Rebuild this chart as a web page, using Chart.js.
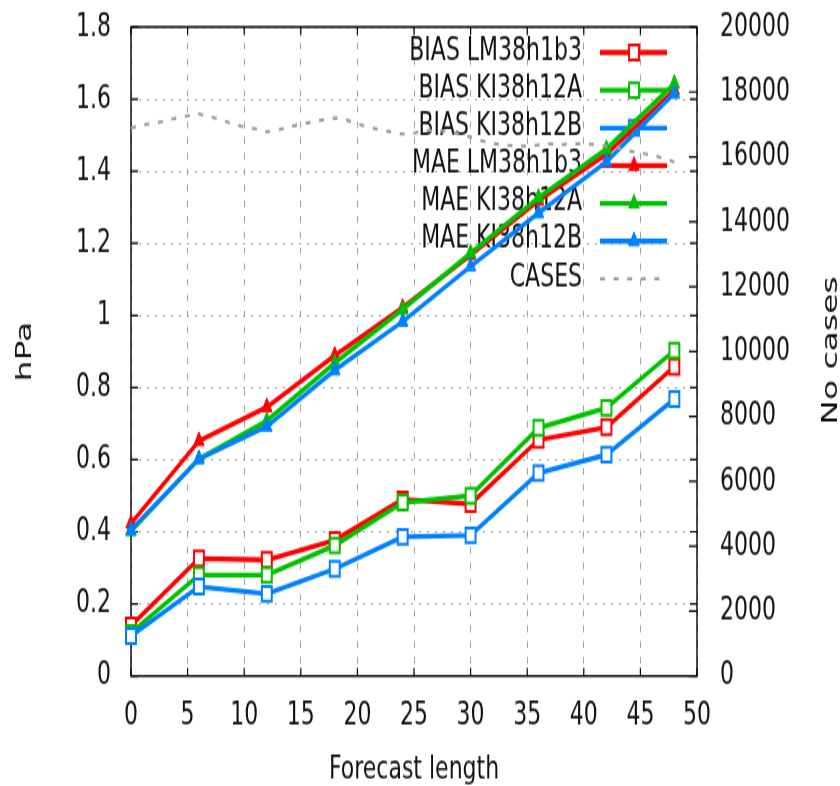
<!DOCTYPE html>
<html>
<head>
<meta charset="utf-8">
<title>BIAS / MAE - Forecast length</title>
<script src="https://cdn.jsdelivr.net/npm/chart.js@4.4.1/dist/chart.umd.min.js"></script>
<style>
  body { margin: 0; background: #fff; }
  #grafico { display: block; }
</style>
</head>
<body>
<!-- o desenho e feito em 840x524 e esticado na vertical pelo CSS -->
<canvas id="grafico" width="840" height="524" style="width:840px;height:786px"></canvas>
<script>
// Horas de previsao
const horas = [0, 6, 12, 18, 24, 30, 36, 42, 48];

// BIAS (hPa)
const biasLM = [0.14, 0.326, 0.322, 0.377, 0.49, 0.477, 0.655, 0.69, 0.858];
const biasKIA = [0.12, 0.28, 0.28, 0.362, 0.481, 0.5, 0.688, 0.744, 0.903];
const biasKIB = [0.111, 0.248, 0.228, 0.297, 0.386, 0.39, 0.563, 0.614, 0.768];

// MAE (hPa)
const maeLM = [0.423, 0.652, 0.746, 0.889, 1.022, 1.168, 1.318, 1.447, 1.625];
const maeKIA = [0.402, 0.602, 0.708, 0.868, 1.017, 1.173, 1.327, 1.462, 1.643];
const maeKIB = [0.405, 0.602, 0.692, 0.848, 0.983, 1.136, 1.284, 1.426, 1.616];

// Numero de casos, hora a hora
const horasCasos = [0, 1, 2, 3, 4, 5, 6, 7, 8, 9, 10, 11, 12, 13, 14, 15, 16, 17, 18, 19, 20,
    21, 22, 23, 24, 25, 26, 27, 28, 29, 30, 31, 32, 33, 34, 35, 36, 37, 38, 39, 40, 41, 42,
    43, 44, 45, 46, 47, 48];
const casos = [16890, 16980, 17040, 17100, 17200, 17260, 17320, 17230, 17140, 17010, 16920,
    16860, 16770, 16830, 16920, 17010, 17070, 17140, 17200, 17140, 17010, 16920, 16830, 16770,
    16700, 16730, 16800, 16830, 16770, 16700, 16610, 16490, 16400, 16370, 16330, 16330, 16370,
    16400, 16370, 16400, 16400, 16370, 16330, 16270, 16180, 16120, 16060, 15960, 15840];

// Marcas dos eixos
const ticksX = [0, 5, 10, 15, 20, 25, 30, 35, 40, 45, 50];
const ticksY = [0, 0.2, 0.4, 0.6, 0.8, 1, 1.2, 1.4, 1.6, 1.8];
const ticksY2 = [0, 2000, 4000, 6000, 8000, 10000, 12000, 14000, 16000, 18000, 20000];

const VERMELHO = '#ff0000';
const VERDE = '#00c000';
const AZUL = '#0080ff';
const CINZA = '#a0a0a0';
const FONTE = '"DejaVu Sans", sans-serif';
const TAMANHO = 22;

function pontos(xs, ys) {
    let lista = [];
    for (var i = 0; i < xs.length; i++) {
        lista.push({ x: xs[i], y: ys[i] });
    }
    return lista;
}

function serie(nome, xs, ys, cor, estilo, ordem) {
    let quadrado = estilo === 'rect';
    return {
        label: nome,
        data: pontos(xs, ys),
        yAxisID: 'y',
        borderColor: cor,
        borderWidth: 3.3,
        pointStyle: estilo,
        pointRadius: quadrado ? 7 : 6,
        pointBorderWidth: quadrado ? 2 : 1,
        pointBorderColor: cor,
        pointBackgroundColor: quadrado ? '#ffffff' : cor,
        tension: 0,
        clip: false,
        order: ordem
    };
}

// Desenha o marcador da legenda
function marcador(ctx, estilo, x, y, cor) {
    ctx.save();
    ctx.strokeStyle = cor;
    ctx.beginPath();
    if (estilo === 'rect') {
        let s = 7 * Math.SQRT1_2;
        ctx.fillStyle = '#ffffff';
        ctx.lineWidth = 2;
        ctx.rect(x - s, y - s, 2 * s, 2 * s);
    } else {
        let r = 6;
        ctx.fillStyle = cor;
        ctx.lineWidth = 1;
        ctx.moveTo(x, y - r);
        ctx.lineTo(x + r * Math.sin(Math.PI / 3), y + r / 2);
        ctx.lineTo(x - r * Math.sin(Math.PI / 3), y + r / 2);
        ctx.closePath();
    }
    ctx.fill();
    ctx.stroke();
    ctx.restore();
}

// tira o espaco extra que o Chart.js reserva para os rotulos das pontas
function semFolga(s) {
    s.paddingTop = 0;
    s.paddingBottom = 0;
    s.paddingLeft = 0;
    s.paddingRight = 0;
}

// Moldura, tracinhos dos eixos e legenda (por baixo das curvas)
const moldura = {
    id: 'moldura',
    beforeDatasetsDraw(chart) {
        const ctx = chart.ctx;
        const a = chart.chartArea;
        const sx = chart.scales.x, sy = chart.scales.y, sy2 = chart.scales.y2;

        ctx.save();
        ctx.strokeStyle = '#000';
        ctx.lineWidth = 1.2;
        ctx.beginPath();
        sx.ticks.forEach(t => {
            let px = sx.getPixelForValue(t.value);
            ctx.moveTo(px, a.bottom); ctx.lineTo(px, a.bottom - 5.5);
            ctx.moveTo(px, a.top); ctx.lineTo(px, a.top + 5.5);
        });
        sy.ticks.forEach(t => {
            let py = sy.getPixelForValue(t.value);
            ctx.moveTo(a.left, py); ctx.lineTo(a.left + 7, py);
            ctx.moveTo(a.right, py); ctx.lineTo(a.right - 7, py);
        });
        sy2.ticks.forEach(t => {
            let py = sy2.getPixelForValue(t.value);
            ctx.moveTo(a.right, py); ctx.lineTo(a.right - 8, py);
        });
        ctx.stroke();

        ctx.lineWidth = 1.4;
        ctx.strokeRect(a.left, a.top, a.right - a.left, a.bottom - a.top);

        // legenda
        ctx.font = TAMANHO + 'px ' + FONTE;
        ctx.textAlign = 'right';
        ctx.textBaseline = 'middle';
        chart.data.datasets.forEach((d, i) => {
            let y = 35 + i * 25.15;
            ctx.fillStyle = '#111';
            ctx.fillText(d.label, 582, y - 1);
            ctx.save();
            ctx.strokeStyle = d.borderColor;
            ctx.lineWidth = d.borderWidth;
            ctx.setLineDash(d.borderDash || []);
            ctx.beginPath();
            ctx.moveTo(600, y);
            ctx.lineTo(667, y);
            ctx.stroke();
            ctx.restore();
            if (d.pointStyle && d.pointRadius > 0) {
                marcador(ctx, d.pointStyle, 634, y, d.borderColor);
            }
        });
        ctx.restore();
    },
    afterDraw(chart) {
        // titulo do eixo da direita, lido de baixo para cima
        const ctx = chart.ctx;
        ctx.save();
        ctx.translate(837, 233.7);
        ctx.rotate(-Math.PI / 2);
        ctx.font = TAMANHO + 'px ' + FONTE;
        ctx.fillStyle = '#111';
        ctx.textAlign = 'center';
        ctx.textBaseline = 'alphabetic';
        ctx.fillText('No cases', 0, 0);
        ctx.restore();
    }
};

const fonteEixo = { family: FONTE, size: TAMANHO };

new Chart(document.getElementById('grafico'), {
    type: 'line',
    data: {
        datasets: [
            serie('BIAS LM38h1b3', horas, biasLM, VERMELHO, 'rect', 7),
            serie('BIAS KI38h12A', horas, biasKIA, VERDE, 'rect', 6),
            serie('BIAS KI38h12B', horas, biasKIB, AZUL, 'rect', 5),
            serie('MAE LM38h1b3', horas, maeLM, VERMELHO, 'triangle', 4),
            serie('MAE KI38h12A', horas, maeKIA, VERDE, 'triangle', 3),
            serie('MAE KI38h12B', horas, maeKIB, AZUL, 'triangle', 2),
            {
                label: 'CASES',
                data: pontos(horasCasos, casos),
                yAxisID: 'y2',
                borderColor: CINZA,
                borderWidth: 2.2,
                borderDash: [5, 8.6],
                pointRadius: 0,
                tension: 0,
                clip: false,
                order: 1
            }
        ]
    },
    options: {
        responsive: false,
        animation: false,
        devicePixelRatio: 1,
        layout: { padding: { top: 18, left: 0, right: 0, bottom: 0 } },
        plugins: {
            legend: { display: false },
            tooltip: { enabled: false }
        },
        scales: {
            x: {
                type: 'linear',
                position: 'bottom',
                min: 0,
                max: 50,
                afterBuildTicks: s => { s.ticks = ticksX.map(v => ({ value: v })); },
                afterFit: s => { s.height = 73.33; semFolga(s); },
                ticks: {
                    font: fonteEixo, color: '#111', padding: 13,
                    maxRotation: 0, autoSkip: false
                },
                grid: { color: CINZA, lineWidth: 1, drawTicks: false },
                border: { display: false, dash: [4.5, 6] },
                title: {
                    display: true, text: 'Forecast length', color: '#111',
                    font: fonteEixo, padding: { top: 0, bottom: -2.6 }
                }
            },
            y: {
                type: 'linear',
                position: 'left',
                min: 0,
                max: 1.8,
                afterBuildTicks: s => { s.ticks = ticksY.map(v => ({ value: v })); },
                afterFit: s => { s.width = 131; semFolga(s); },
                ticks: {
                    font: fonteEixo, color: '#111', padding: 20, autoSkip: false,
                    callback: v => String(+v.toFixed(1))
                },
                grid: { color: CINZA, lineWidth: 1, drawTicks: false },
                border: { display: false, dash: [2, 6] },
                title: {
                    display: true, text: 'hPa', color: '#111',
                    font: fonteEixo, padding: { top: 11.8, bottom: 0 }
                }
            },
            y2: {
                type: 'linear',
                position: 'right',
                min: 0,
                max: 20000,
                afterBuildTicks: s => { s.ticks = ticksY2.map(v => ({ value: v })); },
                afterFit: s => { s.width = 143; semFolga(s); },
                ticks: {
                    font: fonteEixo, color: '#111', padding: 23, autoSkip: false,
                    callback: v => String(v)
                },
                grid: { display: false, drawTicks: false },
                border: { display: false }
            }
        }
    },
    plugins: [moldura]
});
</script>
</body>
</html>
